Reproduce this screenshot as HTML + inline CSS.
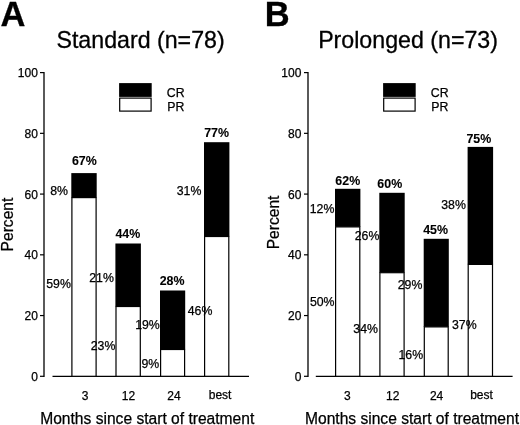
<!DOCTYPE html>
<html><head><meta charset="utf-8"><style>
html,body{margin:0;padding:0;background:#fff;}
body{width:520px;height:425px;overflow:hidden;}
svg{display:block;font-family:"Liberation Sans",sans-serif;will-change:transform;}
</style></head><body>
<svg width="520" height="425" viewBox="0 0 520 425">
<rect width="520" height="425" fill="#fff"/>
<line x1="44.00" y1="72.00" x2="44.00" y2="376.95" stroke="#000" stroke-width="1.3"/>
<line x1="40.00" y1="376.30" x2="44.00" y2="376.30" stroke="#000" stroke-width="1.2"/>
<line x1="40.00" y1="315.56" x2="44.00" y2="315.56" stroke="#000" stroke-width="1.2"/>
<line x1="40.00" y1="254.82" x2="44.00" y2="254.82" stroke="#000" stroke-width="1.2"/>
<line x1="40.00" y1="194.08" x2="44.00" y2="194.08" stroke="#000" stroke-width="1.2"/>
<line x1="40.00" y1="133.34" x2="44.00" y2="133.34" stroke="#000" stroke-width="1.2"/>
<line x1="40.00" y1="72.60" x2="44.00" y2="72.60" stroke="#000" stroke-width="1.2"/>
<line x1="52.50" y1="376.30" x2="249.00" y2="376.30" stroke="#000" stroke-width="1.2"/>
<rect x="71.30" y="173.10" width="25.40" height="24.50" fill="#000"/>
<rect x="71.90" y="197.60" width="24.20" height="178.70" fill="#fff" stroke="#000" stroke-width="1.2"/>
<rect x="115.40" y="243.50" width="25.50" height="63.00" fill="#000"/>
<rect x="116.00" y="306.50" width="24.30" height="69.80" fill="#fff" stroke="#000" stroke-width="1.2"/>
<rect x="160.00" y="290.50" width="25.20" height="59.00" fill="#000"/>
<rect x="160.60" y="349.50" width="24.00" height="26.80" fill="#fff" stroke="#000" stroke-width="1.2"/>
<rect x="204.00" y="142.20" width="25.40" height="94.30" fill="#000"/>
<rect x="204.60" y="236.50" width="24.20" height="139.80" fill="#fff" stroke="#000" stroke-width="1.2"/>
<rect x="119.1" y="83.1" width="32.6" height="13.8" fill="#000"/>
<rect x="119.69999999999999" y="98.09999999999998" width="31.400000000000002" height="13.0" fill="#fff" stroke="#000" stroke-width="1.2"/>
<line x1="308.00" y1="72.00" x2="308.00" y2="376.95" stroke="#000" stroke-width="1.3"/>
<line x1="304.00" y1="376.30" x2="308.00" y2="376.30" stroke="#000" stroke-width="1.2"/>
<line x1="304.00" y1="315.56" x2="308.00" y2="315.56" stroke="#000" stroke-width="1.2"/>
<line x1="304.00" y1="254.82" x2="308.00" y2="254.82" stroke="#000" stroke-width="1.2"/>
<line x1="304.00" y1="194.08" x2="308.00" y2="194.08" stroke="#000" stroke-width="1.2"/>
<line x1="304.00" y1="133.34" x2="308.00" y2="133.34" stroke="#000" stroke-width="1.2"/>
<line x1="304.00" y1="72.60" x2="308.00" y2="72.60" stroke="#000" stroke-width="1.2"/>
<line x1="315.80" y1="376.30" x2="512.60" y2="376.30" stroke="#000" stroke-width="1.2"/>
<rect x="335.00" y="188.80" width="25.40" height="38.10" fill="#000"/>
<rect x="335.60" y="226.90" width="24.20" height="149.40" fill="#fff" stroke="#000" stroke-width="1.2"/>
<rect x="379.30" y="192.80" width="25.40" height="79.90" fill="#000"/>
<rect x="379.90" y="272.70" width="24.20" height="103.60" fill="#fff" stroke="#000" stroke-width="1.2"/>
<rect x="423.70" y="238.80" width="25.10" height="88.10" fill="#000"/>
<rect x="424.30" y="326.90" width="23.90" height="49.40" fill="#fff" stroke="#000" stroke-width="1.2"/>
<rect x="467.60" y="146.90" width="25.50" height="117.50" fill="#000"/>
<rect x="468.20" y="264.40" width="24.30" height="111.90" fill="#fff" stroke="#000" stroke-width="1.2"/>
<rect x="383.1" y="83.1" width="32.6" height="13.8" fill="#000"/>
<rect x="383.70000000000005" y="98.09999999999998" width="31.400000000000002" height="13.0" fill="#fff" stroke="#000" stroke-width="1.2"/>
<g fill="#000">
<text x="0.42" y="25.57" font-size="34.5" font-weight="bold" stroke="#000" stroke-width="0.3">A</text>
<text x="264.72" y="25.52" font-size="34.5" font-weight="bold" stroke="#000" stroke-width="0.3">B</text>
<text x="56.44" y="47.60" font-size="23.2" stroke="#000" stroke-width="0.3">Standard (n=78)</text>
<text x="318.13" y="47.60" font-size="23.2" stroke="#000" stroke-width="0.3">Prolonged (n=73)</text>
<text x="37.83" y="380.58" font-size="12" text-anchor="end" stroke="#000" stroke-width="0.25">0</text>
<text x="301.32" y="380.56" font-size="12" text-anchor="end" stroke="#000" stroke-width="0.25">0</text>
<text x="37.83" y="319.51" font-size="12" text-anchor="end" stroke="#000" stroke-width="0.25">20</text>
<text x="301.32" y="319.51" font-size="12" text-anchor="end" stroke="#000" stroke-width="0.25">20</text>
<text x="37.83" y="258.62" font-size="12" text-anchor="end" stroke="#000" stroke-width="0.25">40</text>
<text x="301.32" y="258.60" font-size="12" text-anchor="end" stroke="#000" stroke-width="0.25">40</text>
<text x="37.83" y="198.54" font-size="12" text-anchor="end" stroke="#000" stroke-width="0.25">60</text>
<text x="301.32" y="198.52" font-size="12" text-anchor="end" stroke="#000" stroke-width="0.25">60</text>
<text x="37.83" y="137.55" font-size="12" text-anchor="end" stroke="#000" stroke-width="0.25">80</text>
<text x="301.32" y="137.53" font-size="12" text-anchor="end" stroke="#000" stroke-width="0.25">80</text>
<text x="37.83" y="76.52" font-size="12" text-anchor="end" stroke="#000" stroke-width="0.25">100</text>
<text x="301.32" y="76.52" font-size="12" text-anchor="end" stroke="#000" stroke-width="0.25">100</text>
<text x="166.82" y="96.53" font-size="12.3" stroke="#000" stroke-width="0.25">CR</text>
<text x="167.20" y="110.53" font-size="12.3" stroke="#000" stroke-width="0.25">PR</text>
<text x="430.82" y="96.53" font-size="12.3" stroke="#000" stroke-width="0.25">CR</text>
<text x="431.20" y="110.53" font-size="12.3" stroke="#000" stroke-width="0.25">PR</text>
<text x="81.70" y="399.57" font-size="12" stroke="#000" stroke-width="0.25">3</text>
<text x="121.77" y="399.62" font-size="12" stroke="#000" stroke-width="0.25">12</text>
<text x="167.24" y="399.50" font-size="12" stroke="#000" stroke-width="0.25">24</text>
<text x="208.71" y="398.57" font-size="12" stroke="#000" stroke-width="0.25">best</text>
<text x="343.88" y="399.55" font-size="12" stroke="#000" stroke-width="0.25">3</text>
<text x="385.98" y="399.50" font-size="12" stroke="#000" stroke-width="0.25">12</text>
<text x="429.89" y="399.50" font-size="12" stroke="#000" stroke-width="0.25">24</text>
<text x="470.13" y="398.55" font-size="12" stroke="#000" stroke-width="0.25">best</text>
<text x="40.20" y="423.58" font-size="15.6" stroke="#000" stroke-width="0.25">Months since start of treatment</text>
<text x="304.98" y="423.58" font-size="15.6" stroke="#000" stroke-width="0.25">Months since start of treatment</text>
<text x="71.95" y="164.60" font-size="12.4" font-weight="bold" stroke="#000" stroke-width="0.1">67%</text>
<text x="50.19" y="194.61" font-size="12.3" stroke="#000" stroke-width="0.25">8%</text>
<text x="46.23" y="287.51" font-size="12.3" stroke="#000" stroke-width="0.25">59%</text>
<text x="89.23" y="281.58" font-size="12.3" stroke="#000" stroke-width="0.25">21%</text>
<text x="115.38" y="237.60" font-size="12.4" font-weight="bold" stroke="#000" stroke-width="0.1">44%</text>
<text x="135.17" y="328.56" font-size="12.3" stroke="#000" stroke-width="0.25">19%</text>
<text x="90.71" y="349.60" font-size="12.3" stroke="#000" stroke-width="0.25">23%</text>
<text x="159.69" y="284.57" font-size="12.4" font-weight="bold" stroke="#000" stroke-width="0.1">28%</text>
<text x="141.48" y="367.54" font-size="12.3" stroke="#000" stroke-width="0.25">9%</text>
<text x="204.21" y="136.60" font-size="12.4" font-weight="bold" stroke="#000" stroke-width="0.1">77%</text>
<text x="176.79" y="194.57" font-size="12.3" stroke="#000" stroke-width="0.25">31%</text>
<text x="187.74" y="314.52" font-size="12.3" stroke="#000" stroke-width="0.25">46%</text>
<text x="335.36" y="184.58" font-size="12.4" font-weight="bold" stroke="#000" stroke-width="0.1">62%</text>
<text x="309.72" y="212.60" font-size="12.3" stroke="#000" stroke-width="0.25">12%</text>
<text x="309.88" y="305.65" font-size="12.3" stroke="#000" stroke-width="0.25">50%</text>
<text x="377.36" y="187.53" font-size="12.4" font-weight="bold" stroke="#000" stroke-width="0.1">60%</text>
<text x="354.73" y="239.50" font-size="12.3" stroke="#000" stroke-width="0.25">26%</text>
<text x="353.30" y="332.50" font-size="12.3" stroke="#000" stroke-width="0.25">34%</text>
<text x="423.13" y="233.52" font-size="12.4" font-weight="bold" stroke="#000" stroke-width="0.1">45%</text>
<text x="397.71" y="288.53" font-size="12.3" stroke="#000" stroke-width="0.25">29%</text>
<text x="398.49" y="358.55" font-size="12.3" stroke="#000" stroke-width="0.25">16%</text>
<text x="466.39" y="142.60" font-size="12.4" font-weight="bold" stroke="#000" stroke-width="0.1">75%</text>
<text x="441.29" y="208.53" font-size="12.3" stroke="#000" stroke-width="0.25">38%</text>
<text x="451.97" y="328.54" font-size="12.3" stroke="#000" stroke-width="0.25">37%</text>
<text x="12.53" y="224.52" font-size="15.6" text-anchor="middle" transform="rotate(-90 12.53 224.52)" stroke="#000" stroke-width="0.25">Percent</text>
<text x="278.63" y="222.42" font-size="15.6" text-anchor="middle" transform="rotate(-90 278.63 222.42)" stroke="#000" stroke-width="0.25">Percent</text>
</g>
</svg>
</body></html>
